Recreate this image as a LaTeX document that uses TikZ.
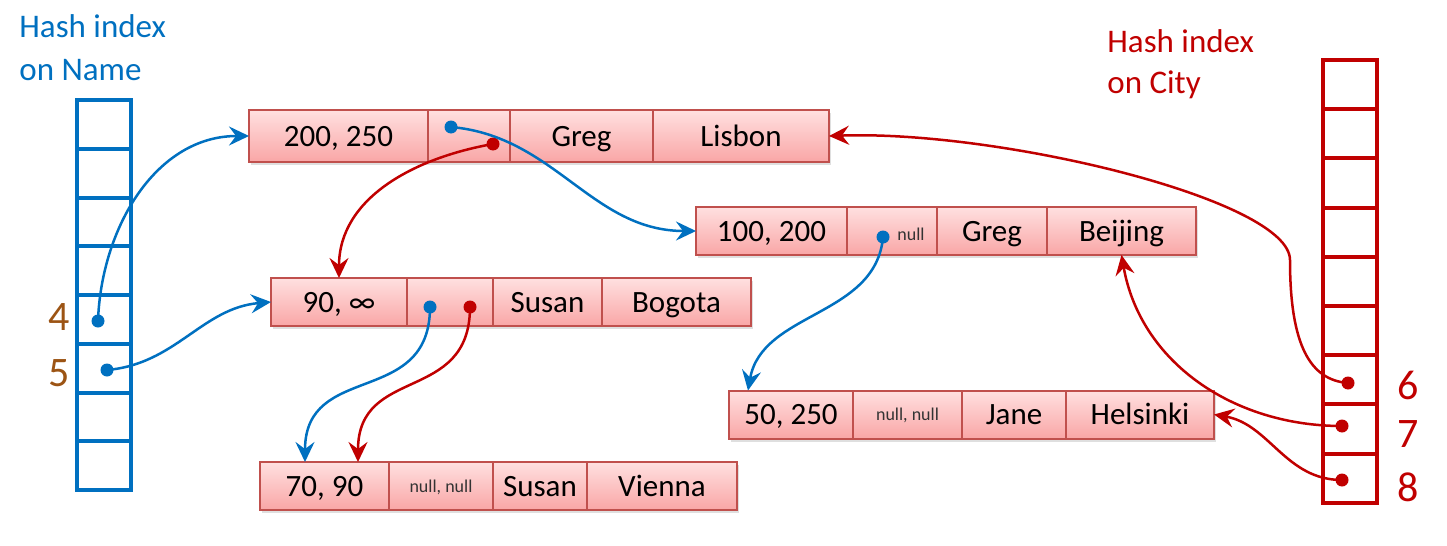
\documentclass[tikz,border=0pt]{standalone}
\usepackage{fontspec}
\setmainfont{Carlito}
\usetikzlibrary{positioning,arrows.meta,shadows}

\definecolor{idxblau}{RGB}{0,112,192}
\definecolor{idxrot}{RGB}{192,0,0}
\definecolor{nrbraun}{RGB}{156,84,20}
\definecolor{boxrand}{RGB}{192,80,77}
\definecolor{boxoben}{RGB}{255,224,224}
\definecolor{boxunten}{RGB}{249,166,166}

\tikzset{
	zelle/.style={draw=boxrand, line width=1pt, top color=boxoben,
		bottom color=boxunten, minimum height=24pt, inner sep=0pt,
		outer sep=0pt, font=\fontsize{15.5}{18}\selectfont,
		text height=10pt, text depth=0pt,
		drop shadow={opacity=0.25, shadow xshift=1pt, shadow yshift=-1.5pt}},
	nullzelle/.style={zelle, font=\fontsize{9}{10}\selectfont, text=black!80,
		text height=6pt},
	ntab/.style={draw=idxblau, line width=2pt},
	ctab/.style={draw=idxrot, line width=2pt},
	titel/.style={font=\fontsize{16.5}{20}\selectfont, anchor=base west,
		inner sep=0pt},
	nummer/.style={font=\fontsize{21}{24}\selectfont, inner sep=0pt},
	bpfeil/.style={draw=idxblau, line width=1.25pt,
		-{Stealth[length=10pt, width=9.5pt, inset=3.5pt]}},
	rpfeil/.style={draw=idxrot, line width=1.25pt,
		-{Stealth[length=10pt, width=9.5pt, inset=3.5pt]}}
}

\begin{document}
\begin{tikzpicture}[x=0.5pt, y=0.5pt]
	\useasboundingbox (0,0) rectangle (1447,-546);

	% Hash-Index auf Name
	\node[titel, text=idxblau] (tname1) at (19,-38) {Hash index};
	\node[titel, text=idxblau] (tname2) at (19,-80) {on Name};
	\draw[ntab] (77,-100) rectangle (131,-490);
	\foreach \i in {1,...,7}
		\draw[ntab] (77,-100-48.75*\i) -- (131,-100-48.75*\i);
	\node[nummer, text=nrbraun, anchor=east] (nr4) at (70,-317) {4};
	\node[nummer, text=nrbraun, anchor=east] (nr5) at (70,-373) {5};

	% Hash-Index auf City
	\node[titel, text=idxrot] (tcity1) at (1107,-52) {Hash index};
	\node[titel, text=idxrot] (tcity2) at (1107,-93) {on City};
	\draw[ctab] (1323,-60) rectangle (1377,-503);
	\foreach \i in {1,...,8}
		\draw[ctab] (1323,-60-49.2*\i) -- (1377,-60-49.2*\i);
	\node[nummer, text=idxrot, anchor=west] (nr6) at (1397,-385) {6};
	\node[nummer, text=idxrot, anchor=west] (nr7) at (1397,-434) {7};
	\node[nummer, text=idxrot, anchor=west] (nr8) at (1397,-487) {8};

	% Datensaetze
	\node[zelle, minimum width=89.5pt, minimum height=26pt] (r1k) at (338.5,-136)
		{200, 250};
	\node[zelle, minimum width=41pt, minimum height=26pt, right=0pt of r1k] (r1p) {};
	\node[zelle, minimum width=71.5pt, minimum height=26pt, right=0pt of r1p] (r1n)
		{Greg};
	\node[zelle, minimum width=88pt, minimum height=26pt, right=0pt of r1n] (r1c)
		{Lisbon};

	\node[zelle, minimum width=75.5pt] (r2k) at (771.5,-231) {100, 200};
	\node[zelle, minimum width=45pt, right=0pt of r2k] (r2p) {};
	\node[zelle, minimum width=55pt, right=0pt of r2p] (r2n) {Greg};
	\node[zelle, minimum width=74.5pt, right=0pt of r2n] (r2c) {Beijing};
	\node[font=\fontsize{9}{10}\selectfont, text=black!80, inner sep=0pt]
		(r2null) at (911,-234) {null};

	\node[zelle, minimum width=68pt] (r3k) at (339,-302) {90, ∞};
	\node[zelle, minimum width=43pt, right=0pt of r3k] (r3p) {};
	\node[zelle, minimum width=54.5pt, right=0pt of r3p] (r3n) {Susan};
	\node[zelle, minimum width=74.5pt, right=0pt of r3n] (r3c) {Bogota};

	\node[zelle, minimum width=62pt] (r4k) at (791,-414.5) {50, 250};
	\node[nullzelle, minimum width=54.5pt, right=0pt of r4k] (r4p) {null, null};
	\node[zelle, minimum width=52pt, right=0pt of r4p] (r4n) {Jane};
	\node[zelle, minimum width=74pt, right=0pt of r4n] (r4c) {Helsinki};

	\node[zelle, minimum width=64.5pt] (r5k) at (324.5,-486) {70, 90};
	\node[nullzelle, minimum width=52pt, right=0pt of r5k] (r5p) {null, null};
	\node[zelle, minimum width=47pt, right=0pt of r5p] (r5n) {Susan};
	\node[zelle, minimum width=75pt, right=0pt of r5n] (r5c) {Vienna};

	% Zeigerpunkte
	\coordinate (d4) at (98,-321);
	\coordinate (d5) at (107,-370);
	\coordinate (d6) at (1348,-383);
	\coordinate (d7) at (1342,-426);
	\coordinate (d8) at (1342,-480);
	\coordinate (p1b) at (451,-127);
	\coordinate (p1r) at (493,-144);
	\coordinate (p2b) at (883,-237);
	\coordinate (p3b) at (430,-307);
	\coordinate (p3r) at (470,-307);
	\foreach \p in {d4,d5,p1b,p2b,p3b}
		\fill[idxblau] (\p) circle (3.25pt);
	\foreach \p in {d6,d7,d8,p1r,p3r}
		\fill[idxrot] (\p) circle (3.25pt);

	% Zeiger Name
	\draw[bpfeil] (d4) to[out=88, in=180] (r1k.west);
	\draw[bpfeil] (d5) to[out=5, in=185] (r3k.west);
	\draw[bpfeil] (p1b) to[out=-5, in=180] (r2k.west);
	\draw[bpfeil] (p2b) to[out=-95, in=80] ([xshift=-21.5pt]r4k.north);
	\draw[bpfeil] (p3b) to[out=-90, in=90, looseness=1.3]
		([xshift=-9.75pt]r5k.north);

	% Zeiger City
	\draw[rpfeil] (p1r) to[out=190, in=90] (r3k.north);
	\draw[rpfeil] (p3r) to[out=-90, in=90, looseness=1.3]
		([xshift=16.75pt]r5k.north);
	\draw[rpfeil] (d6) .. controls (1310,-380) and (1290,-345) .. (1290,-260)
		.. controls (1290,-200) and (1000,-130) .. (r1c.east);
	\draw[rpfeil] (d7) to[out=180, in=-80] (r2c.south);
	\draw[rpfeil] (d8) to[out=180, in=-10] (r4c.east);
\end{tikzpicture}
\end{document}
